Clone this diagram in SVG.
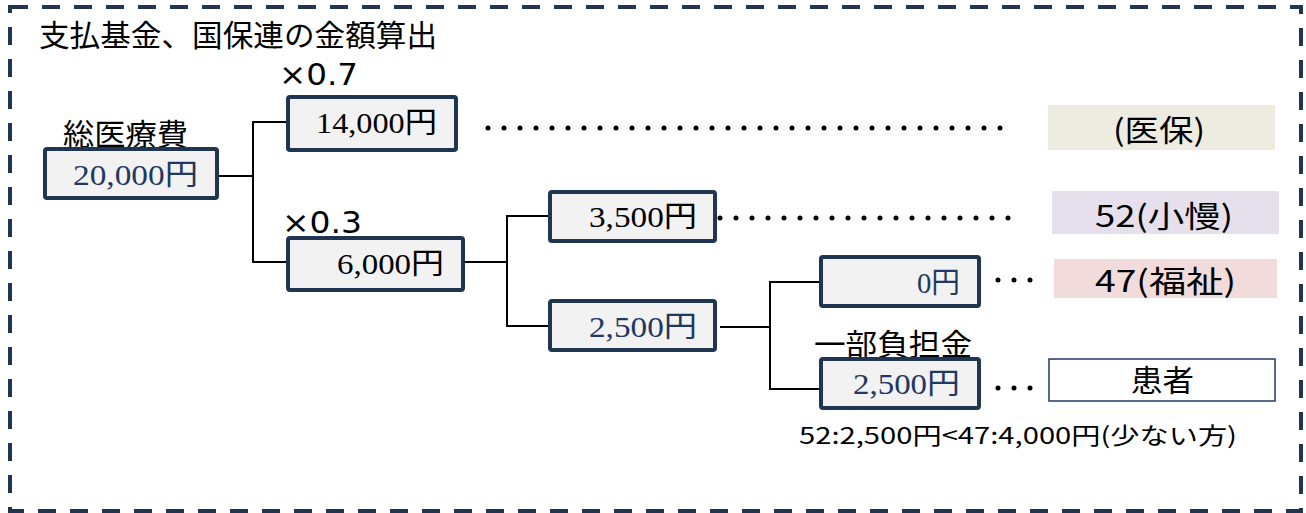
<svg xmlns="http://www.w3.org/2000/svg" width="1306" height="513" viewBox="0 0 1306 513">
  <style>
    .frame { fill: none; stroke: #1f3552; stroke-width: 4; stroke-dasharray: 18 14; }
    .box { fill: #f2f2f2; stroke: #1f3552; stroke-width: 4; }
    .num { font-family: "Liberation Serif", "Noto Sans CJK JP", serif; font-size: 29px; fill: #000; }
    .navy { fill: #1f3864; }
    .lbl { font-family: "Noto Sans CJK JP", sans-serif; font-size: 30px; fill: #000; }
    .mul { font-family: "DejaVu Sans", "Liberation Sans", sans-serif; font-size: 31px; fill: #000; }
    .conn { fill: none; stroke: #000; stroke-width: 2; }
    .dots { fill: none; stroke: #000; stroke-width: 5; stroke-linecap: round; stroke-dasharray: 0 16; }
    .note { font-family: "Noto Sans CJK JP", sans-serif; font-size: 23px; fill: #000; }
  </style>
  <rect width="1306" height="513" fill="#ffffff"/>
  <rect class="frame" x="10" y="7" width="1291" height="504"/>
  <text class="lbl" x="39" y="46" textLength="398" lengthAdjust="spacingAndGlyphs">支払基金、国保連の金額算出</text>

  <g id="connectors">
    <polyline class="conn" points="218,176 253,176"/>
    <polyline class="conn" points="287,122 253,122 253,262 287,262"/>
    <polyline class="conn" points="463,262 507,262"/>
    <polyline class="conn" points="549,216 507,216 507,326 549,326"/>
    <polyline class="conn" points="720,327 770,327"/>
    <polyline class="conn" points="820,282 770,282 770,389 820,389"/>
    <line class="dots" x1="488" y1="128" x2="1001" y2="128"/>
    <line class="dots" x1="720" y1="218" x2="1009" y2="218"/>
    <line class="dots" x1="998" y1="280" x2="1031" y2="280"/>
    <line class="dots" x1="998" y1="388" x2="1031" y2="388"/>
  </g>

  <g id="total">
    <text class="lbl" x="63" y="145" textLength="125" lengthAdjust="spacingAndGlyphs">総医療費</text>
    <rect class="box" x="45" y="149" width="172" height="49" rx="2"/>
    <text class="num navy" x="73" y="185" textLength="125" lengthAdjust="spacingAndGlyphs">20,000円</text>
  </g>

  <g id="n14000">
    <text class="mul" x="279" y="85" textLength="79" lengthAdjust="spacingAndGlyphs">×0.7</text>
    <rect class="box" x="288" y="97" width="168" height="53" rx="2"/>
    <text class="num" x="316" y="133" textLength="121" lengthAdjust="spacingAndGlyphs">14,000円</text>
  </g>

  <g id="n6000">
    <text class="mul" x="282" y="233" textLength="80" lengthAdjust="spacingAndGlyphs">×0.3</text>
    <rect class="box" x="288" y="238" width="175" height="52" rx="2"/>
    <text class="num" x="337" y="274" textLength="107" lengthAdjust="spacingAndGlyphs">6,000円</text>
  </g>

  <g id="n3500">
    <rect class="box" x="550" y="192" width="165" height="49" rx="2"/>
    <text class="num" x="589" y="227" textLength="108" lengthAdjust="spacingAndGlyphs">3,500円</text>
  </g>

  <g id="n2500a">
    <rect class="box" x="550" y="301" width="165" height="49" rx="2"/>
    <text class="num navy" x="589" y="337" textLength="108" lengthAdjust="spacingAndGlyphs">2,500円</text>
  </g>

  <g id="n0">
    <rect class="box" x="821" y="257" width="158" height="49" rx="2"/>
    <text class="num navy" x="917" y="293" textLength="43" lengthAdjust="spacingAndGlyphs">0円</text>
  </g>

  <g id="n2500b">
    <text class="lbl" x="814" y="355" font-size="31" textLength="158" lengthAdjust="spacingAndGlyphs">一部負担金</text>
    <rect class="box" x="821" y="359" width="158" height="49" rx="2"/>
    <text class="num navy" x="853" y="394" textLength="107" lengthAdjust="spacingAndGlyphs">2,500円</text>
  </g>

  <g id="iho">
    <rect x="1048" y="105" width="227" height="45" fill="#eeece1"/>
    <text class="lbl" x="1113" y="141" font-size="29" textLength="92" lengthAdjust="spacingAndGlyphs">(医保)</text>
  </g>

  <g id="shoman">
    <rect x="1052" y="191" width="227" height="43" fill="#e5e0ec"/>
    <text class="lbl" x="1095" y="227" font-size="31" textLength="138" lengthAdjust="spacingAndGlyphs">52(小慢)</text>
  </g>

  <g id="fukushi">
    <rect x="1054" y="259" width="223" height="39" fill="#f2dcdb"/>
    <text class="lbl" x="1095" y="292" font-size="31" textLength="141" lengthAdjust="spacingAndGlyphs">47(福祉)</text>
  </g>

  <g id="kanja">
    <rect x="1049" y="359" width="226" height="42" fill="#ffffff" stroke="#1f3864" stroke-width="1.5"/>
    <text class="lbl" x="1131" y="391" textLength="63" lengthAdjust="spacingAndGlyphs">患者</text>
  </g>

  <text class="note" x="799" y="444" textLength="438" lengthAdjust="spacingAndGlyphs">52:2,500円&lt;47:4,000円(少ない方)</text>
</svg>
